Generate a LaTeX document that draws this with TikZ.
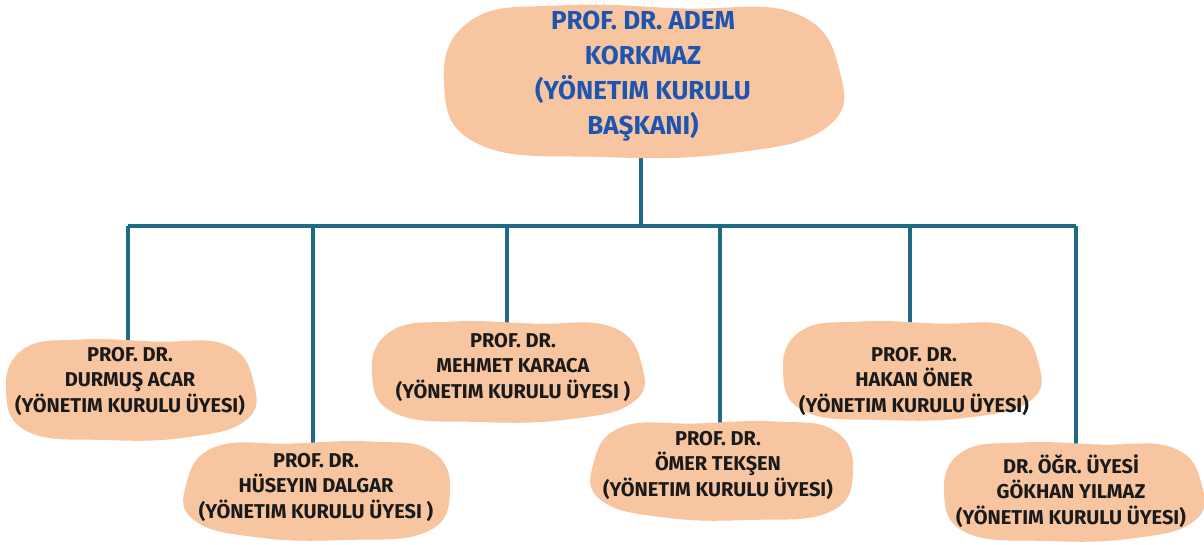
\documentclass[tikz,border=0pt]{standalone}
\usepackage{fontspec}
\setmainfont{Fira Sans}
\definecolor{peach}{HTML}{F7C59F}
\definecolor{teal}{HTML}{1F6A84}
\definecolor{titleblue}{HTML}{1E55B0}
\definecolor{ink}{HTML}{1A1A1A}
\pgfdeclarelayer{lines}
\pgfdeclarelayer{blobs}
\pgfsetlayers{lines,blobs,main}
\tikzset{
  link/.style={teal, line width=4pt},
  member/.style={align=center, text=ink, font=\bfseries\fontsize{20}{25.5}\selectfont},
  chief/.style={align=center, text=titleblue, font=\bfseries\fontsize{26}{35}\selectfont}
}
\newcommand{\blob}[4]{%
  \path[fill=peach, shift={(#1,#2)}, xscale=#3, yscale=#4]
    plot[smooth cycle, tension=0.75] coordinates {(-1,0.05) (-0.86,-0.78) (-0.4,-0.97)
      (0.2,-0.93) (0.78,-0.86) (1,-0.1) (0.93,0.62) (0.45,0.95) (-0.2,1) (-0.82,0.84)};}
\begin{document}
\begin{tikzpicture}[x=1pt, y=-1pt]
  \useasboundingbox (0,0) rectangle (1204,544);

  % --- people ---
  \node[chief]  (baskan) at (643,76) {PROF. DR. ADEM\\KORKMAZ\\(YÖNETIM KURULU\\BAŞKANI)};
  \node[member] (acar)   at (130,381) {PROF. DR.\\DURMUŞ ACAR\\(YÖNETIM KURULU ÜYESI)};
  \node[member] (dalgar) at (316,487) {PROF. DR.\\HÜSEYIN DALGAR\\(YÖNETIM KURULU ÜYESI )};
  \node[member] (karaca) at (513,367) {PROF. DR.\\MEHMET KARACA\\(YÖNETIM KURULU ÜYESI )};
  \node[member] (teksen) at (718,465) {PROF. DR.\\ÖMER TEKŞEN\\(YÖNETIM KURULU ÜYESI)};
  \node[member] (oner)   at (914,381) {PROF. DR.\\HAKAN ÖNER\\(YÖNETIM KURULU ÜYESI)};
  \node[member] (yilmaz) at (1071,491) {DR. ÖĞR. ÜYESİ\\GÖKHAN YILMAZ\\(YÖNETIM KURULU ÜYESI)};

  % --- clouds behind the names ---
  \begin{pgfonlayer}{blobs}
    \blob{642}{80}{198}{77}
    \blob{130}{389}{124}{51}
    \blob{318}{490}{-132}{50}
    \blob{507}{371}{135}{51}
    \blob{723}{470}{-130}{50}
    \blob{911}{370}{128}{50}
    \blob{1073}{491}{129}{50}
  \end{pgfonlayer}

  % --- tree lines ---
  \coordinate (bus) at (641,226);
  \coordinate (busL) at (128,226);
  \coordinate (busR) at (1076,226);
  \begin{pgfonlayer}{lines}
    \draw[link] (baskan.south -| bus) -- (bus);
    \draw[link] (busL) -- (busR);
    \draw[link] (busL) -- (busL |- acar.north);
    \draw[link] (dalgar.north -| 313,0) -- (313,226);
    \draw[link] (karaca.north -| 507,0) -- (507,226);
    \draw[link] (teksen.north -| 720,0) -- (720,226);
    \draw[link] (oner.north -| 910,0) -- (910,226);
    \draw[link] (busR) -- (busR |- yilmaz.north);
  \end{pgfonlayer}

\end{tikzpicture}
\end{document}
